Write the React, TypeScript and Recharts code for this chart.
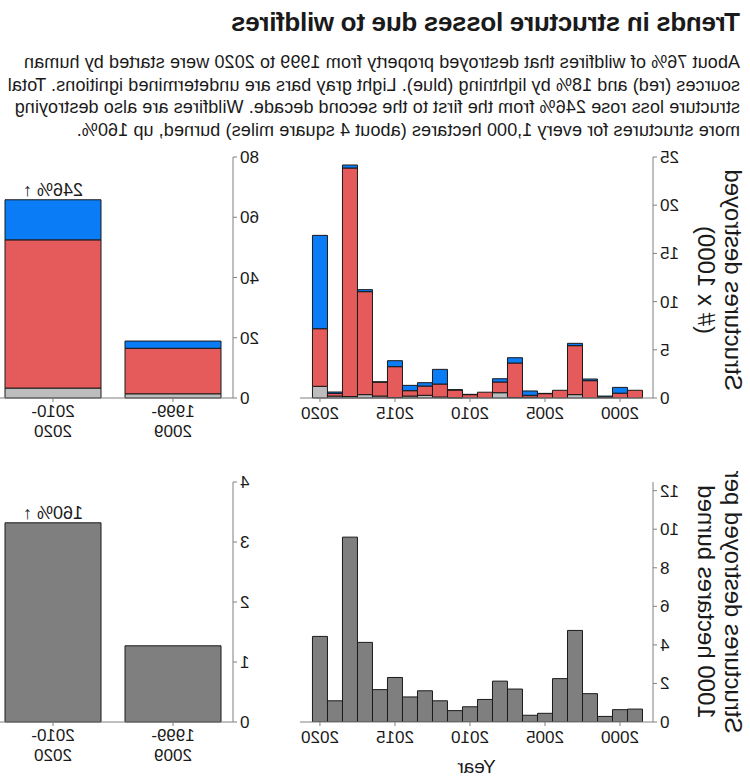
import { BarChart, Bar, XAxis, YAxis, LabelList } from "recharts";

// yearly values, 1999..2020
const years = [1999, 2000, 2001, 2002, 2003, 2004, 2005, 2006, 2007, 2008, 2009, 2010, 2011, 2012, 2013, 2014, 2015, 2016, 2017, 2018, 2019, 2020];
const undetermined = [0, 0, 0, 0, 0.35, 0, 0, 0.07, 0.05, 0.55, 0, 0, 0.03, 0.1, 0.28, 0.2, 0.05, 0.2, 0.35, 0.15, 0.2, 1.21];
const human = [0.8, 0.5, 0.1, 1.8, 5.08, 0.8, 0.45, 0.21, 3.58, 1.11, 0.6, 0.35, 0.8, 1.35, 0.96, 0.56, 3.2, 1.45, 10.68, 23.71, 0.28, 5.98];
const lightning = [0, 0.6, 0.1, 0.17, 0.24, 0, 0.03, 0.45, 0.55, 0.34, 0, 0.03, 0.03, 1.52, 0.35, 0.55, 0.62, 0.02, 0.21, 0.31, 0.14, 9.68];
const perArea = [0.67, 0.64, 0.29, 1.47, 4.75, 2.25, 0.45, 0.35, 1.71, 2.12, 1.17, 0.79, 0.59, 1.1, 1.62, 1.3, 2.31, 1.68, 4.13, 9.59, 1.1, 4.44];
const yearTicks = [2000, 2005, 2010, 2015, 2020];

// decade values
const decades = ["1999-2009", "2010-2020"];
const decadeUndetermined = [1.4, 3.3];
const decadeHuman = [15.1, 49.2];
const decadeLightning = [2.4, 13.3];
const decadePerArea = [1.27, 3.32];
const lossChange = [null, "246% ↑"];
const areaChange = [null, "160% ↑"];

const titleText = "Trends in structure losses due to wildfires";
const descLines = [
  "About 76% of wildfires that destroyed property from 1999 to 2020 were started by human",
  "sources (red) and 18% by lightning (blue). Light gray bars are undetermined ignitions. Total",
  "structure loss rose 246% from the first to the second decade. Wildfires are also destroying",
  "more structures for every 1,000 hectares (about 4 square miles) burned, up 160%.",
];

const FONT = '"Liberation Sans", Arial, sans-serif';
const GRAY = "#bdbdbd";
const RED = "#e55b5b";
const BLUE = "#0a7cf5";
const DARK = "#7f7f7f";
const EDGE = "#1a1a1a";
const AXIS = "#808080";
const TEXT = "#1a1a1a";

const yearData = years.map((year, i) => ({
  year,
  undetermined: undetermined[i],
  human: human[i],
  lightning: lightning[i],
  perArea: perArea[i],
}));

const decadeData = decades.map((decade, i) => ({
  decade,
  undetermined: decadeUndetermined[i],
  human: decadeHuman[i],
  lightning: decadeLightning[i],
  perArea: decadePerArea[i],
  lossChange: lossChange[i],
  areaChange: areaChange[i],
}));

const tickStyle = { fill: TEXT, fontSize: 17, fontFamily: FONT };

const DecadeTick = (props: any) => {
  const { x, y, payload } = props;
  const [a, b] = String(payload.value).split("-");
  return (
    <text x={x} y={y} textAnchor="middle" fill={TEXT} fontSize={17} fontFamily={FONT}>
      <tspan x={x} dy={13}>{a + "-"}</tspan>
      <tspan x={x} dy={20}>{b}</tspan>
    </text>
  );
};

const AxisTitle = ({ cx, cy, lines }: { cx: number; cy: number; lines: string[] }) => (
  <div
    style={{
      position: "absolute",
      left: cx,
      top: cy,
      transform: "translate(-50%, -50%) rotate(-90deg)",
      whiteSpace: "nowrap",
      textAlign: "center",
      fontSize: 24,
      lineHeight: "27px",
      color: TEXT,
    }}
  >
    {lines.map((l) => (
      <div key={l}>{l}</div>
    ))}
  </div>
);

const YearAxis = (props: { showLabel?: boolean; height: number }) => (
  <XAxis
    dataKey="year"
    type="number"
    domain={[1997.8, 2021.33]}
    ticks={yearTicks}
    allowDataOverflow
    stroke={AXIS}
    tickSize={4}
    tickMargin={5}
    tick={tickStyle}
    height={props.height}
    label={props.showLabel ? { value: "Year", position: "insideBottom", offset: 5, fill: TEXT, fontSize: 19, fontFamily: FONT } : undefined}
  />
);

export default function App() {
  return (
    <div
      style={{
        position: "absolute",
        left: 0,
        top: 0,
        width: 750,
        height: 778,
        overflow: "hidden",
        background: "#fff",
        transform: "scaleX(-1)",
        fontFamily: FONT,
        color: TEXT,
      }}
    >
      <div style={{ position: "absolute", left: 10, top: 7, fontSize: 26, fontWeight: "bold", fontFamily: '"Liberation Sans Narrow", ' + FONT, whiteSpace: "nowrap", letterSpacing: -0.3 }}>
        {titleText}
      </div>
      <div style={{ position: "absolute", left: 10, top: 51, fontSize: 18, lineHeight: "22.7px", whiteSpace: "nowrap", letterSpacing: 0.1 }}>
        {descLines.map((l) => (
          <div key={l}>{l}</div>
        ))}
      </div>

      <AxisTitle cx={30} cy={280} lines={["Structures destroyed", "(# x 1000)"]} />
      <AxisTitle cx={30} cy={602} lines={["Structures destroyed per", "1000 hectares burned"]} />

      <div style={{ position: "absolute", left: 0, top: 130 }}>
        <BarChart width={460} height={300} data={yearData} margin={{ top: 27, right: 10, bottom: 0, left: 0 }} barSize={15}>
          {YearAxis({ height: 32 })}
          <YAxis domain={[0, 25]} ticks={[0, 5, 10, 15, 20, 25]} width={97} stroke={AXIS} tickSize={4} tickMargin={3} tick={tickStyle} />
          <Bar dataKey="undetermined" stackId="a" fill={GRAY} stroke={EDGE} strokeWidth={1} isAnimationActive={false} />
          <Bar dataKey="human" stackId="a" fill={RED} stroke={EDGE} strokeWidth={1} isAnimationActive={false} />
          <Bar dataKey="lightning" stackId="a" fill={BLUE} stroke={EDGE} strokeWidth={1} isAnimationActive={false} />
        </BarChart>
      </div>

      <div style={{ position: "absolute", left: 440, top: 130 }}>
        <BarChart width={317} height={330} data={decadeData} margin={{ top: 27, right: 0, bottom: 0, left: 0 }} barSize={96}>
          <XAxis dataKey="decade" stroke={AXIS} tickSize={4} tick={<DecadeTick />} height={62} interval={0} />
          <YAxis domain={[0, 80]} ticks={[0, 20, 40, 60, 80]} width={77} stroke={AXIS} tickSize={4} tickMargin={3} tick={tickStyle} />
          <Bar dataKey="undetermined" stackId="a" fill={GRAY} stroke={EDGE} strokeWidth={1} isAnimationActive={false} />
          <Bar dataKey="human" stackId="a" fill={RED} stroke={EDGE} strokeWidth={1} isAnimationActive={false} />
          <Bar dataKey="lightning" stackId="a" fill={BLUE} stroke={EDGE} strokeWidth={1} isAnimationActive={false}>
            <LabelList dataKey="lossChange" position="top" offset={4} fill={TEXT} fontSize={18} fontFamily={FONT} />
          </Bar>
        </BarChart>
      </div>

      <div style={{ position: "absolute", left: 0, top: 450 }}>
        <BarChart width={460} height={328} data={yearData} margin={{ top: 32, right: 10, bottom: 0, left: 0 }} barSize={15}>
          {YearAxis({ height: 56, showLabel: true })}
          <YAxis domain={[0, 12.45]} ticks={[0, 2, 4, 6, 8, 10, 12]} width={97} stroke={AXIS} tickSize={4} tickMargin={3} tick={tickStyle} allowDataOverflow />
          <Bar dataKey="perArea" fill={DARK} stroke={EDGE} strokeWidth={1} isAnimationActive={false} />
        </BarChart>
      </div>

      <div style={{ position: "absolute", left: 440, top: 450 }}>
        <BarChart width={317} height={328} data={decadeData} margin={{ top: 32, right: 0, bottom: 0, left: 0 }} barSize={96}>
          <XAxis dataKey="decade" stroke={AXIS} tickSize={4} tick={<DecadeTick />} height={56} interval={0} />
          <YAxis domain={[0, 4]} ticks={[0, 1, 2, 3, 4]} width={77} stroke={AXIS} tickSize={4} tickMargin={3} tick={tickStyle} />
          <Bar dataKey="perArea" fill={DARK} stroke={EDGE} strokeWidth={1} isAnimationActive={false}>
            <LabelList dataKey="areaChange" position="top" offset={4} fill={TEXT} fontSize={18} fontFamily={FONT} />
          </Bar>
        </BarChart>
      </div>
    </div>
  );
}
